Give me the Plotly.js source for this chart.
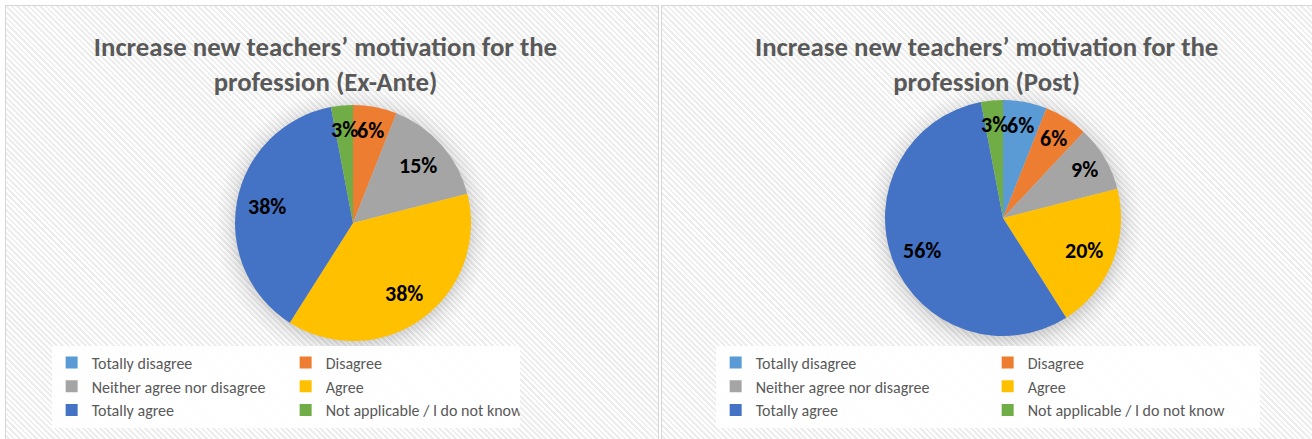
<!DOCTYPE html>
<html>
<head>
<meta charset="utf-8">
<script src="https://cdn.plot.ly/plotly-3.0.1.min.js"></script>
<style>
  html, body { margin: 0; padding: 0; background: #ffffff; width: 1312px; height: 439px; overflow: hidden; }
  .panel {
    position: absolute; top: 5px; width: 652px; height: 440px;
    border: 1px solid #d6d6d6;
    background-color: #ffffff;
  }
  #left {
    left: 5px;
    background-image:
      radial-gradient(circle at 347px 220px, rgba(0,0,0,0.16) 114px, rgba(0,0,0,0.06) 125px, rgba(0,0,0,0) 138px),
      repeating-linear-gradient(45deg, #ffffff 0px, #ffffff 2px, #ededed 2px, #ededed 4px);
  }
  #right {
    left: 661px;
    background-image:
      radial-gradient(circle at 342px 216px, rgba(0,0,0,0.16) 114px, rgba(0,0,0,0.06) 125px, rgba(0,0,0,0) 138px),
      repeating-linear-gradient(45deg, #ffffff 0px, #ffffff 2px, #ededed 2px, #ededed 4px);
  }
  .plot { position: absolute; left: 0; top: 0; width: 652px; height: 432px; }
</style>
</head>
<body>
<div id="left" class="panel"><div id="plotL" class="plot"></div></div>
<div id="right" class="panel"><div id="plotR" class="plot"></div></div>
<script>
// ---- data ----
const categories = [
  "Totally disagree",
  "Disagree",
  "Neither agree nor disagree",
  "Agree",
  "Totally agree",
  "Not applicable / I do not know"
];
const exAnteValues = [0, 6, 15, 38, 38, 3];
const postValues = [6, 6, 9, 20, 56, 3];
const titleExAnte = "Increase new teachers’ motivation for the<br>profession (Ex-Ante)";
const titlePost = "Increase new teachers’ motivation for the<br>profession (Post)";
const sliceColors = ["#5B9BD5", "#ED7D31", "#A5A5A5", "#FFC000", "#4472C4", "#70AD47"];

const FONT = "Carlito, Calibri, Lato, sans-serif";
const W = 652, H = 432;

function makeTrace(values, domain) {
  return {
    type: "pie",
    labels: categories,
    values: values,
    textinfo: "none",
    sort: false,
    direction: "clockwise",
    rotation: 0,
    marker: { colors: sliceColors, line: { width: 0 } },
    domain: domain,
    hoverinfo: "label+percent",
    showlegend: true
  };
}

// data labels placed along each slice's mid-angle (computed from the values)
function labelAnnotations(values, domain) {
  const total = values.reduce((a, b) => a + b, 0);
  const cx = (domain.x[0] + domain.x[1]) / 2;
  const cy = (domain.y[0] + domain.y[1]) / 2;
  const rPx = Math.min((domain.x[1] - domain.x[0]) * W, (domain.y[1] - domain.y[0]) * H) / 2;
  const anns = [];
  let cum = 0;
  values.forEach(v => {
    if (v > 0) {
      const mid = (cum + v / 2) / total * 2 * Math.PI;
      const f = v < 10 ? 0.8 : 0.74;
      anns.push({
        xref: "paper", yref: "paper",
        x: cx + f * rPx * Math.sin(mid) / W,
        y: cy + f * rPx * Math.cos(mid) / H,
        xanchor: "center", yanchor: "middle",
        text: v + "%",
        showarrow: false,
        font: { family: FONT, size: 22, color: "#000000", weight: "bold" }
      });
    }
    cum += v;
  });
  return anns;
}

function makeLayout(titleText, titleX, legendX, entryW, anns) {
  return {
    width: W,
    height: H,
    margin: { l: 0, r: 0, t: 0, b: 0 },
    paper_bgcolor: "rgba(0,0,0,0)",
    plot_bgcolor: "rgba(0,0,0,0)",
    title: {
      text: titleText,
      x: titleX,
      xanchor: "center",
      y: 0.885,
      yanchor: "top",
      font: { family: FONT, size: 26.8, color: "#595959", weight: "bold" }
    },
    annotations: anns,
    showlegend: true,
    legend: {
      orientation: "h",
      x: legendX,
      xanchor: "left",
      y: 0.214,
      yanchor: "top",
      bgcolor: "rgba(255,255,255,0.92)",
      font: { family: FONT, size: 16, color: "#595959" },
      entrywidth: entryW,
      entrywidthmode: "pixels",
      tracegroupgap: 0,
      itemclick: false,
      itemdoubleclick: false
    }
  };
}

const domL = { x: [0.3512, 0.7132], y: [0.2245, 0.7708] };
const domR = { x: [0.3420, 0.7040], y: [0.2361, 0.7824] };

Plotly.newPlot("plotL",
  [makeTrace(exAnteValues, domL)],
  makeLayout(titleExAnte, 0.49, 0.07, 189, labelAnnotations(exAnteValues, domL)),
  { displayModeBar: false, staticPlot: true });

Plotly.newPlot("plotR",
  [makeTrace(postValues, domR)],
  makeLayout(titlePost, 0.498, 0.0823, 227, labelAnnotations(postValues, domR)),
  { displayModeBar: false, staticPlot: true });
</script>
</body>
</html>
